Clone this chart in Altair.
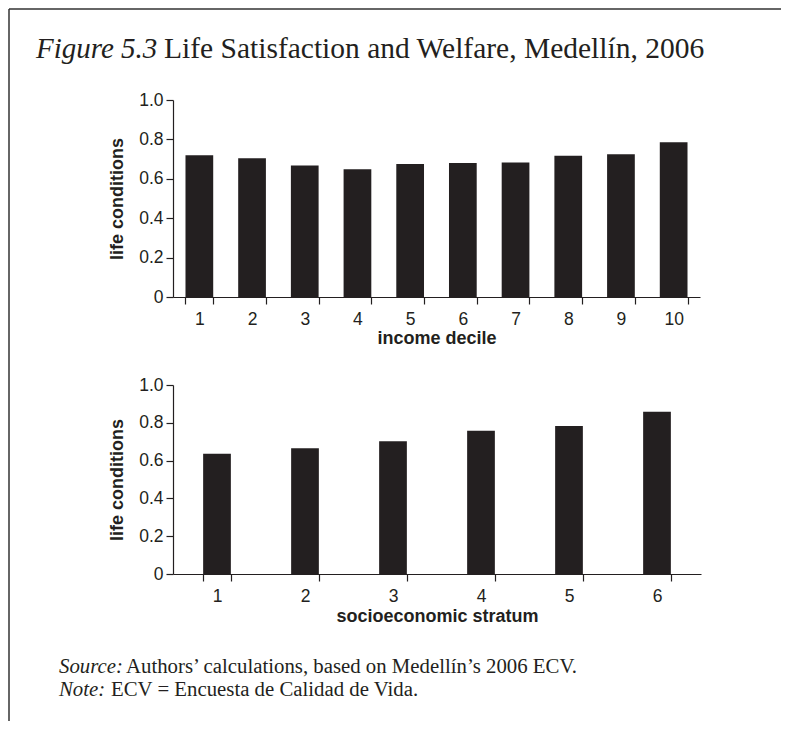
import altair as alt
import pandas as pd

# ---- data ----
deciles = ["1", "2", "3", "4", "5", "6", "7", "8", "9", "10"]
decile_values = [0.720, 0.704, 0.668, 0.648, 0.675, 0.680, 0.683, 0.717, 0.724, 0.786]
strata = ["1", "2", "3", "4", "5", "6"]
strata_values = [0.636, 0.665, 0.703, 0.758, 0.783, 0.859]
y_ticks = [0, 0.2, 0.4, 0.6, 0.8, 1.0]

title_italic = "Figure 5.3"
title_rest = "Life Satisfaction and Welfare, Medellín, 2006"
source_italic = "Source:"
source_rest = "Authors’ calculations, based on Medellín’s 2006 ECV."
note_italic = "Note:"
note_rest = "ECV = Encuesta de Calidad de Vida."

INK = "#231f20"
SANS = "Liberation Sans"
SERIF = "Liberation Serif"

top_df = pd.DataFrame({"decile": deciles, "value": decile_values})
bot_df = pd.DataFrame({"stratum": strata, "value": strata_values})
one = pd.DataFrame({"k": [0]})


def x_axis(title, pad):
    return alt.Axis(
        title=title, labelAngle=0, tickBand="extent", tickSize=7,
        tickColor=INK, domainColor=INK, domainWidth=1.2, tickWidth=1.2,
        labelFont=SANS, labelFontSize=17.5, labelColor=INK, labelPadding=pad,
        titleFont=SANS, titleFontSize=18, titleFontWeight="bold",
        titleColor=INK, titlePadding=2,
    )


def y_axis():
    return alt.Axis(
        title="life conditions", values=y_ticks, grid=False,
        labelExpr="datum.value == 0 ? '0' : format(datum.value, '.1f')",
        tickSize=7, tickColor=INK, domainColor=INK, domainWidth=1.2,
        tickWidth=1.2, labelFont=SANS, labelFontSize=17.5, labelColor=INK,
        labelPadding=3, titleFont=SANS, titleFontSize=18,
        titleFontWeight="bold", titleColor=INK, titlePadding=12,
    )


def text_layer(txt, x, y, size, style):
    return alt.Chart(one).mark_text(
        align="left", baseline="alphabetic", font=SERIF, fontSize=size,
        fontStyle=style, color=INK,
    ).encode(x=alt.value(x), y=alt.value(y), text=alt.value(txt))


bars_top = alt.Chart(top_df).mark_bar(color=INK).encode(
    x=alt.X("decile:N", sort=deciles,
            scale=alt.Scale(paddingInner=0.474, paddingOuter=0.237),
            axis=x_axis("income decile", 6)),
    y=alt.Y("value:Q", scale=alt.Scale(domain=[0, 1], nice=False), axis=y_axis()),
)

border_top = alt.Chart(one).mark_rule(color="#333333", strokeWidth=1.5).encode(
    x=alt.value(-164), x2=alt.value(608), y=alt.value(-91))
border_left = alt.Chart(one).mark_rule(color="#333333", strokeWidth=1.5).encode(
    x=alt.value(-164), y=alt.value(-91), y2=alt.value(621))

top = alt.layer(
    bars_top, border_top, border_left,
    text_layer(title_italic, -137, -42, 29, "italic"),
    text_layer(title_rest, -9, -42, 29.5, "normal"),
).properties(width=527, height=197)

bars_bot = alt.Chart(bot_df).mark_bar(color=INK).encode(
    x=alt.X("stratum:N", sort=strata,
            scale=alt.Scale(paddingInner=0.685, paddingOuter=0.3425),
            axis=x_axis("socioeconomic stratum", 6.5)),
    y=alt.Y("value:Q", scale=alt.Scale(domain=[0, 1], nice=False), axis=y_axis()),
)

bottom = alt.layer(
    bars_bot,
    text_layer(source_italic, -114, 288, 20.8, "italic"),
    text_layer(source_rest, -47, 288, 20.8, "normal"),
    text_layer(note_italic, -114, 311, 20.8, "italic"),
    text_layer(note_rest, -62, 311, 20.8, "normal"),
).properties(width=528, height=189)

chart = alt.vconcat(top, bottom, spacing=88, bounds="flush").properties(
    padding=0, background="white"
).configure_view(stroke=None)

chart.save("out.html", embed_options={"renderer": "svg", "actions": False})
